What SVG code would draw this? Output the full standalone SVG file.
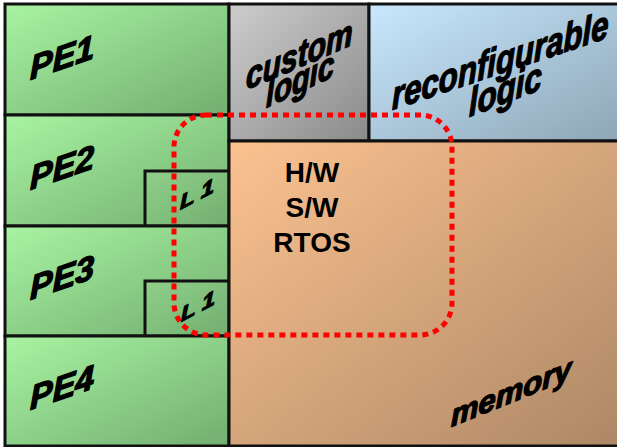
<svg xmlns="http://www.w3.org/2000/svg" width="617" height="447" viewBox="0 0 617 447">
<defs>
<linearGradient id="gGreen" x1="0" y1="0" x2="1" y2="1">
<stop offset="0" stop-color="#a8f4a2"/><stop offset="1" stop-color="#72ae70"/>
</linearGradient>
<linearGradient id="gGreenDark" x1="0" y1="0" x2="1" y2="1">
<stop offset="0" stop-color="#90d08a"/><stop offset="1" stop-color="#72ae70"/>
</linearGradient>
<linearGradient id="gGray" x1="0" y1="0" x2="1" y2="1">
<stop offset="0" stop-color="#cdcdcd"/><stop offset="1" stop-color="#8a8a8a"/>
</linearGradient>
<linearGradient id="gBlue" x1="0" y1="0" x2="1" y2="1">
<stop offset="0" stop-color="#c8e8ff"/><stop offset="1" stop-color="#8ea6b6"/>
</linearGradient>
<linearGradient id="gOrange" x1="0" y1="0" x2="1" y2="1">
<stop offset="0" stop-color="#fcc290"/><stop offset="1" stop-color="#ad8866"/>
</linearGradient>
</defs>
<style>
.cell{stroke:#111;stroke-width:3}
.wa{font-family:"Liberation Sans",Arial,sans-serif;font-weight:bold;font-style:italic;fill:#000;stroke:#000;stroke-width:1.3;stroke-linejoin:round}
.plain{font-family:"Liberation Sans",Arial,sans-serif;font-weight:bold;fill:#000;font-size:28px;text-anchor:middle}
.dots{fill:none;stroke:#ff0000;stroke-width:5;stroke-dasharray:6 5}
</style>
<rect x="0" y="0" width="617" height="447" fill="#ffffff"/>
<g id="pe1"><rect class="cell" x="5" y="4" width="224" height="111" fill="url(#gGreen)"/>
<text class="wa" font-size="34" transform="translate(30,80) skewY(-19)">PE1</text></g>
<g id="pe2"><rect class="cell" x="5" y="115" width="224" height="111" fill="url(#gGreen)"/>
<text class="wa" font-size="34" transform="translate(30,190) skewY(-19)">PE2</text></g>
<g id="l1a"><rect class="cell" x="145" y="171" width="84" height="55" fill="url(#gGreenDark)"/>
<text class="wa" font-size="24" letter-spacing="6" transform="translate(180,210) skewY(-28) scale(1,0.85)">L1</text></g>
<g id="pe3"><rect class="cell" x="5" y="226" width="224" height="110" fill="url(#gGreen)"/>
<text class="wa" font-size="34" transform="translate(30,300) skewY(-19)">PE3</text></g>
<g id="l1b"><rect class="cell" x="145" y="281" width="84" height="55" fill="url(#gGreenDark)"/>
<text class="wa" font-size="24" letter-spacing="6" transform="translate(181,322) skewY(-28) scale(1,0.85)">L1</text></g>
<g id="pe4"><rect class="cell" x="5" y="336" width="224" height="110" fill="url(#gGreen)"/>
<text class="wa" font-size="34" transform="translate(30,410) skewY(-19)">PE4</text></g>
<g id="custom"><rect class="cell" x="229" y="4" width="140" height="137" fill="url(#gGray)"/>
<text class="wa" font-size="38" transform="translate(246,90) skewY(-23) scale(0.79,1)">custom</text>
<text class="wa" font-size="38" transform="translate(266,108) skewY(-25) scale(0.77,1)">logic</text></g>
<g id="reconf"><rect class="cell" x="369" y="4" width="250" height="137" fill="url(#gBlue)"/>
<text class="wa" font-size="40" transform="translate(392,110) skewY(-18.5) scale(0.78,1)">reconfigurable</text>
<text class="wa" font-size="40" transform="translate(469,117) skewY(-21) scale(0.78,1)">logic</text></g>
<g id="memory"><rect class="cell" x="229" y="141" width="390" height="305" fill="url(#gOrange)"/>
<text class="plain" x="312" y="182">H/W</text>
<text class="plain" x="312" y="217">S/W</text>
<text class="plain" x="312" y="252">RTOS</text>
<text class="wa" font-size="31" transform="translate(451,427) skewY(-22)">memory</text></g>
<g id="connectors">
<rect class="dots" x="174" y="115" width="278" height="220" rx="32" ry="32"/>
</g>
</svg>
